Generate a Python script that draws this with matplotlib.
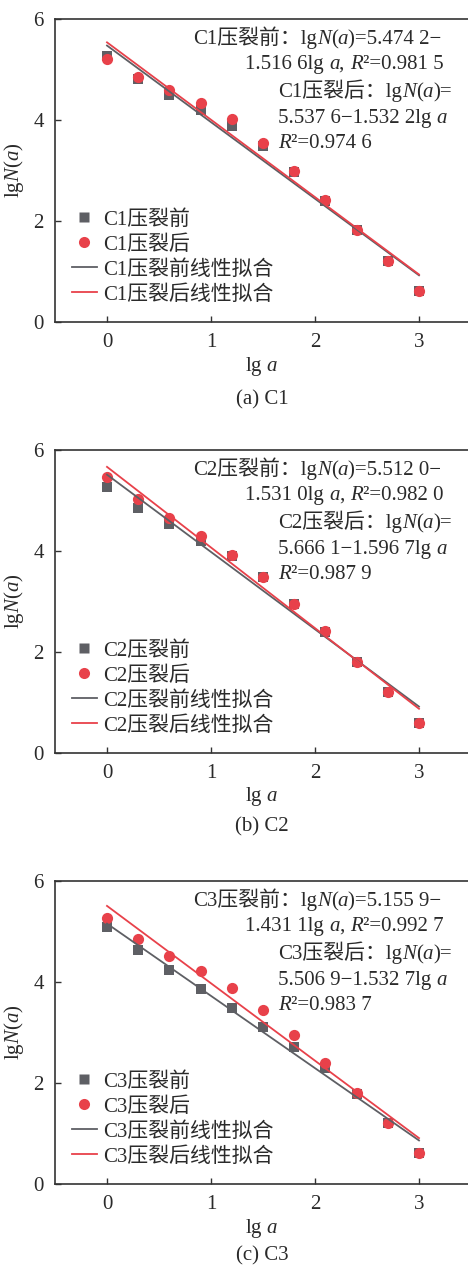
import matplotlib
matplotlib.use('Agg')
import matplotlib.pyplot as plt
from matplotlib.lines import Line2D
from matplotlib.transforms import IdentityTransform

plt.rcParams['font.family'] = ['Liberation Serif', 'Noto Sans CJK SC']
plt.rcParams['mathtext.fontset'] = 'custom'
plt.rcParams['mathtext.rm'] = 'Liberation Serif'
plt.rcParams['mathtext.it'] = 'Liberation Serif:italic'

# data
lg_a = [0.0, 0.3, 0.6, 0.9, 1.2, 1.5, 1.8, 2.1, 2.4, 2.7, 3.0]
samples = ['C1', 'C2', 'C3']
captions = ['(a) C1', '(b) C2', '(c) C3']

before = [
    [5.27, 4.82, 4.50, 4.20, 3.88, 3.49, 2.98, 2.40, 1.82, 1.21, 0.61],
    [5.27, 4.86, 4.53, 4.20, 3.90, 3.48, 2.96, 2.40, 1.80, 1.20, 0.59],
    [5.08, 4.63, 4.24, 3.86, 3.49, 3.11, 2.72, 2.30, 1.78, 1.20, 0.61],
]
after = [
    [5.20, 4.85, 4.59, 4.33, 4.01, 3.55, 2.99, 2.41, 1.83, 1.21, 0.61],
    [5.46, 5.03, 4.66, 4.30, 3.92, 3.49, 2.96, 2.41, 1.80, 1.20, 0.59],
    [5.26, 4.86, 4.52, 4.21, 3.88, 3.45, 2.95, 2.39, 1.81, 1.20, 0.61],
]

# fitted lines lgN(a) = b - k lg a
b_before = [5.4742, 5.5120, 5.1559]
k_before = [1.5166, 1.5310, 1.4311]
r2_before = [0.9815, 0.9820, 0.9927]
b_after = [5.5376, 5.6661, 5.5069]
k_after = [1.5322, 1.5967, 1.5327]
r2_after = [0.9746, 0.9879, 0.9837]

GRAY = '#5e5f64'
RED = '#e8414a'
TXT = '#2a2a2a'
FS = 15

W, H = 468, 1268
fig = plt.figure(figsize=(W / 100, H / 100), dpi=100)
renderer = fig.canvas.get_renderer()

tops = [19, 450, 881]
cap_off = [78, 74, 72]
ax_h = 303
left, right = 55, 471


def fmt(v):
    s = '%.4f' % v
    return s[:-1] + ' ' + s[-1]


def rich(x, y, parts):
    # x, y in pixels from the top-left corner, y is the baseline
    xp = x
    for s, it in parts:
        t = fig.text(xp, H - y, s, transform=IdentityTransform(), fontsize=FS,
                     style='italic' if it else 'normal', color=TXT,
                     ha='left', va='baseline')
        xp = t.get_window_extent(renderer).x1


for i in range(3):
    top = tops[i]
    ax = fig.add_axes([left / W, (H - top - ax_h) / H, (right - left) / W, ax_h / H])
    ax.scatter(lg_a, before[i], marker='s', s=50, color=GRAY, zorder=2, linewidths=0)
    ax.scatter(lg_a, after[i], marker='o', s=65, color=RED, zorder=3, linewidths=0)
    xs = [lg_a[0], lg_a[-1]]
    ax.plot(xs, [b_before[i] - k_before[i] * x for x in xs], color=GRAY, lw=1.3, zorder=4)
    ax.plot(xs, [b_after[i] - k_after[i] * x for x in xs], color=RED, lw=1.3, zorder=5)

    ax.set_xlim(-0.5, 3.5)
    ax.set_ylim(0, 6)
    ax.set_xticks([0, 1, 2, 3])
    ax.set_yticks([0, 2, 4, 6])
    ax.tick_params(direction='in', length=4, width=1, colors='#333333', labelsize=FS,
                   labelcolor=TXT)
    ax.tick_params(axis='x', pad=8)
    ax.tick_params(axis='y', pad=8)
    for sp in ax.spines.values():
        sp.set_color('#333333')
        sp.set_linewidth(1.2)
    ax.spines['right'].set_visible(False)
    ax.set_ylabel(r'lg$\it{N}$($\it{a}$)', fontsize=FS, color=TXT, labelpad=5)

    name = samples[i]
    handles = [
        Line2D([], [], ls='none', marker='s', ms=6.5, color=GRAY, mec='none'),
        Line2D([], [], ls='none', marker='o', ms=8, color=RED, mec='none'),
        Line2D([], [], color=GRAY, lw=1.3),
        Line2D([], [], color=RED, lw=1.3),
    ]
    labels = [name + '压裂前', name + '压裂后', name + '压裂前线性拟合', name + '压裂后线性拟合']
    leg = ax.legend(handles, labels, loc='upper left', bbox_to_anchor=(0.04, 0.37),
                    frameon=False, fontsize=FS, handlelength=1.2, handletextpad=0.3,
                    labelspacing=0.26, borderpad=0, borderaxespad=0)
    for t in leg.get_texts():
        t.set_color(TXT)

    rich(193, top + 25, [(name + '压裂前：lg', False), ('N', True), ('(', False),
                         ('a', True), (')=' + fmt(b_before[i]) + '−', False)])
    rich(245, top + 50, [(fmt(k_before[i]) + 'lg ', False), ('a', True), (', ', False),
                         ('R', True), ('²=' + fmt(r2_before[i]), False)])
    rich(278, top + 78, [(name + '压裂后：lg', False), ('N', True), ('(', False),
                         ('a', True), (')=', False)])
    rich(278, top + 104, [(fmt(b_after[i]) + '−' + fmt(k_after[i]) + 'lg ', False),
                          ('a', True)])
    rich(278, top + 129, [('R', True), ('²=' + fmt(r2_after[i]), False)])

    fig.text(262 / W, 1 - (top + ax_h + 44) / H, r'lg $\it{a}$', fontsize=FS, color=TXT,
             ha='center', va='center')
    fig.text(262 / W, 1 - (top + ax_h + cap_off[i]) / H, captions[i], fontsize=FS,
             color=TXT, ha='center', va='center')

fig.savefig('out.png', dpi=100)
